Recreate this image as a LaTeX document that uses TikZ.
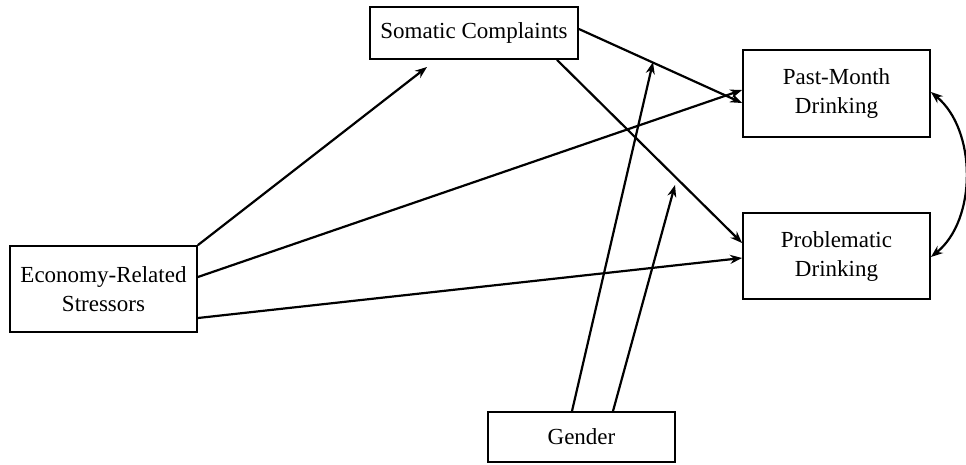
\documentclass[tikz,border=0pt]{standalone}
\usepackage{fontspec}
\setmainfont{Liberation Serif}
\usetikzlibrary{arrows.meta,calc}
\begin{document}
\begin{tikzpicture}[x=1pt,y=-1pt,
  boxnode/.style={draw,line width=1.8pt,align=center,inner sep=0pt,
    font=\fontsize{23}{29}\selectfont},
  conn/.style={line width=2.2pt,-{Stealth[length=12pt,width=9pt]}},
  biconn/.style={line width=2.2pt,{Stealth[length=12pt,width=9pt]}-{Stealth[length=12pt,width=9pt]}}]
\useasboundingbox (0,0) rectangle (966,464);
\node[boxnode,minimum width=208pt,minimum height=52pt] (som) at (474,33) {Somatic Complaints};
\node[boxnode,minimum width=187pt,minimum height=87pt] (past) at (836.5,93.5) {Past-Month\\Drinking};
\node[boxnode,minimum width=187pt,minimum height=86pt] (prob) at (836.5,256) {Problematic\\Drinking};
\node[boxnode,minimum width=187pt,minimum height=86pt] (econ) at (103.5,289) {Economy-Related\\Stressors};
\node[boxnode,minimum width=187pt,minimum height=50pt] (gen) at (581.5,437) {Gender};
\coordinate (t1) at (427,67);
\coordinate (g1) at (653,62);
\coordinate (g2) at (675,185);
\draw[conn] (econ.north east) -- (t1);
\draw[conn] ([yshift=12pt]econ.east) -- ([yshift=3.5pt]past.west);
\draw[conn] ([yshift=-29pt]econ.east) -- ([yshift=-2pt]prob.west);
\draw[conn] ([yshift=4pt]som.east) -- ([yshift=-9.5pt]past.west);
\draw[conn] ([xshift=83pt]som.south) -- ([yshift=13pt]prob.west);
\draw[conn] ([xshift=-9.5pt]gen.north) -- (g1);
\draw[conn] ([xshift=31.5pt]gen.north) -- (g2);
\draw[biconn] ([yshift=1.5pt]past.east) .. controls (977,130) and (977,220) .. ([yshift=-1pt]prob.east);
\end{tikzpicture}
\end{document}
